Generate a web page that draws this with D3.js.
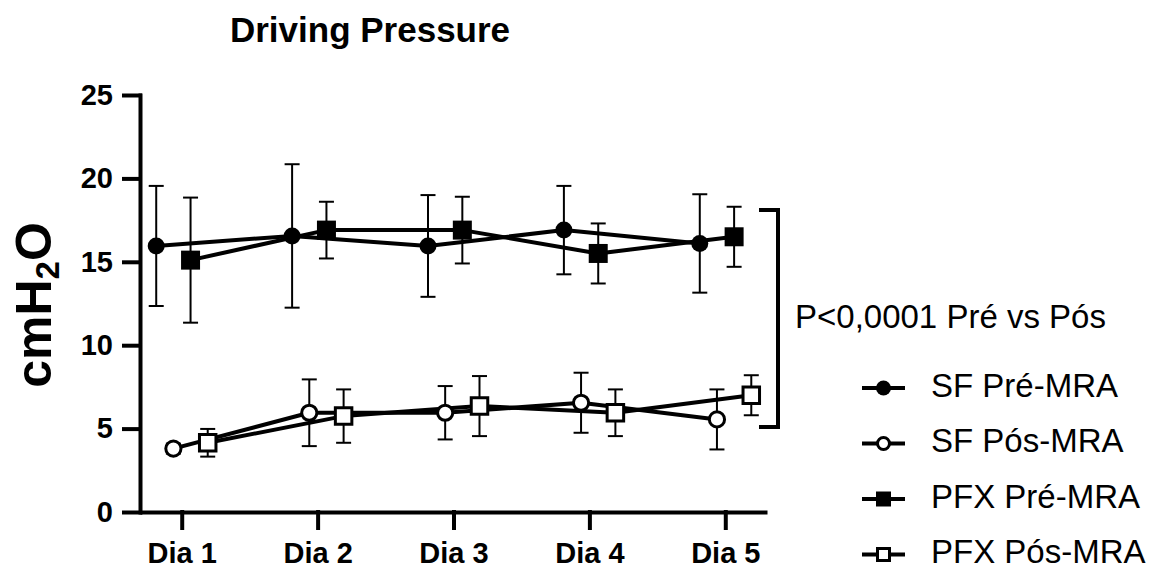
<!DOCTYPE html>
<html>
<head>
<meta charset="utf-8">
<script src="https://cdn.jsdelivr.net/npm/d3@7"></script>
<style>
  body { margin: 0; background: #fff; }
  svg { display: block; font-family: "Liberation Sans", Arial, Helvetica, sans-serif; }
</style>
</head>
<body>
<svg id="chart"></svg>
<script>
// data (mean ± SD)
const days = ['Dia 1', 'Dia 2', 'Dia 3', 'Dia 4', 'Dia 5'];
const seriesNames = ['SF Pré-MRA', 'SF Pós-MRA', 'PFX Pré-MRA', 'PFX Pós-MRA'];

const sfPreMean  = [15.95, 16.55, 15.95, 16.9, 16.1];
const sfPreSd    = [3.6, 4.3, 3.05, 2.65, 2.95];
const sfPosMean  = [3.8, 5.95, 5.95, 6.55, 5.55];
const sfPosSd    = [0.3, 2.0, 1.6, 1.8, 1.8];
const pfxPreMean = [15.1, 16.9, 16.9, 15.5, 16.5];
const pfxPreSd   = [3.75, 1.7, 2.0, 1.8, 1.8];
const pfxPosMean = [4.15, 5.75, 6.35, 5.95, 7.0];
const pfxPosSd   = [0.83, 1.6, 1.8, 1.4, 1.2];

const yTicks = [0, 5, 10, 15, 20, 25];
const title = 'Driving Pressure';
const pText = 'P<0,0001 Pré vs Pós';
const bracketRange = [5.1, 18.1];

const width = 1153, height = 568;

const series = [
    { name: seriesNames[0], mean: sfPreMean,  sd: sfPreSd,  shape: d3.symbolCircle, open: false },
    { name: seriesNames[1], mean: sfPosMean,  sd: sfPosSd,  shape: d3.symbolCircle, open: true },
    { name: seriesNames[2], mean: pfxPreMean, sd: pfxPreSd, shape: d3.symbolSquare, open: false },
    { name: seriesNames[3], mean: pfxPosMean, sd: pfxPosSd, shape: d3.symbolSquare, open: true }
];

const svg = d3.select('#chart')
    .attr('width', width)
    .attr('height', height);

const xscale = d3.scalePoint()
    .domain(days)
    .range([140, 767])
    .padding(0.307);

// side-by-side offset for each group
const offset = d3.scalePoint()
    .domain(seriesNames)
    .range([-25.5, 26]);

const yscale = d3.scaleLinear()
    .domain([0, 25])
    .range([512, 95]);

// axes
const xaxis = d3.axisBottom(xscale)
    .tickSize(16)
    .tickSizeOuter(0)
    .tickPadding(14);

const yaxis = d3.axisLeft(yscale)
    .tickValues(yTicks)
    .tickSize(16)
    .tickSizeOuter(0)
    .tickPadding(11);

const xg = svg.append('g')
    .attr('transform', `translate(0, ${yscale(0)})`)
    .call(xaxis);

const yg = svg.append('g')
    .attr('transform', `translate(140, 0)`)
    .call(yaxis);

[xg, yg].forEach(g => {
    g.selectAll('path, line')
        .attr('stroke', '#000')
        .attr('stroke-width', 4)
        .attr('stroke-linecap', 'square');
    g.selectAll('text')
        .attr('fill', '#000')
        .style('font-size', '29px')
        .style('font-weight', 'bold');
});
xg.select('.domain').attr('stroke-linecap', 'butt');

// error bars
const capHalf = 7.5;
series.forEach(s => {
    const g = svg.append('g')
        .attr('stroke', '#000')
        .attr('stroke-width', 2)
        .attr('fill', 'none');
    days.forEach((d, i) => {
        const cx = xscale(d) + offset(s.name);
        const top = yscale(s.mean[i] + s.sd[i]);
        const bot = yscale(s.mean[i] - s.sd[i]);
        g.append('line').attr('x1', cx).attr('x2', cx).attr('y1', top).attr('y2', bot);
        g.append('line').attr('x1', cx - capHalf).attr('x2', cx + capHalf).attr('y1', top).attr('y2', top);
        g.append('line').attr('x1', cx - capHalf).attr('x2', cx + capHalf).attr('y1', bot).attr('y2', bot);
    });
});

// connecting lines
series.forEach(s => {
    const line = d3.line()
        .x((v, i) => xscale(days[i]) + offset(s.name))
        .y(v => yscale(v));
    svg.append('path')
        .datum(s.mean)
        .attr('d', line)
        .attr('fill', 'none')
        .attr('stroke', '#000')
        .attr('stroke-width', 4)
        .attr('stroke-linejoin', 'round');
});

// markers
function markerSize(s, legend) {
    if (s.shape === d3.symbolCircle) {
        const r = legend ? (s.open ? 6 : 7.5) : (s.open ? 7.6 : 8.5);
        return Math.PI * r * r;
    }
    const side = legend ? (s.open ? 12 : 15) : (s.open ? 16.5 : 19);
    return side * side;
}

series.forEach(s => {
    svg.append('g').selectAll('path')
        .data(s.mean)
        .join('path')
        .attr('transform', (v, i) => `translate(${xscale(days[i]) + offset(s.name)}, ${yscale(v)})`)
        .attr('d', d3.symbol(s.shape, markerSize(s, false)))
        .attr('fill', s.open ? '#fff' : '#000')
        .attr('stroke', '#000')
        .attr('stroke-width', s.open ? 3 : 0);
});

// bracket for the Pré vs Pós comparison
const bx = 778;
svg.append('path')
    .attr('d', `M${bx - 19},${yscale(bracketRange[1])}H${bx}V${yscale(bracketRange[0])}H${bx - 19}`)
    .attr('fill', 'none')
    .attr('stroke', '#000')
    .attr('stroke-width', 4);

svg.append('text')
    .attr('x', 795)
    .attr('y', 328)
    .style('font-size', '33px')
    .text(pText);

// title
svg.append('text')
    .attr('x', 370)
    .attr('y', 42)
    .attr('text-anchor', 'middle')
    .style('font-size', '35px')
    .style('font-weight', 'bold')
    .text(title);

// y label
const ylab = svg.append('text')
    .attr('transform', 'translate(51, 305) rotate(-90)')
    .attr('text-anchor', 'middle')
    .style('font-size', '50px')
    .style('font-weight', 'bold');
ylab.append('tspan').text('cmH');
ylab.append('tspan').attr('dy', 8).style('font-size', '33px').text('2');
ylab.append('tspan').attr('dy', -8).text('O');

// legend
const legend = svg.append('g');
series.forEach((s, i) => {
    const cy = 388 + i * 55.5;
    const row = legend.append('g').attr('transform', `translate(0, ${cy})`);
    row.append('line')
        .attr('x1', 862).attr('x2', 905)
        .attr('stroke', '#000')
        .attr('stroke-width', 4);
    row.append('path')
        .attr('transform', 'translate(883.5, 0)')
        .attr('d', d3.symbol(s.shape, markerSize(s, true)))
        .attr('fill', s.open ? '#fff' : '#000')
        .attr('stroke', '#000')
        .attr('stroke-width', s.open ? 3 : 0);
    row.append('text')
        .attr('x', 931)
        .attr('y', 8.5)
        .style('font-size', '33px')
        .text(s.name);
});
</script>
</body>
</html>
